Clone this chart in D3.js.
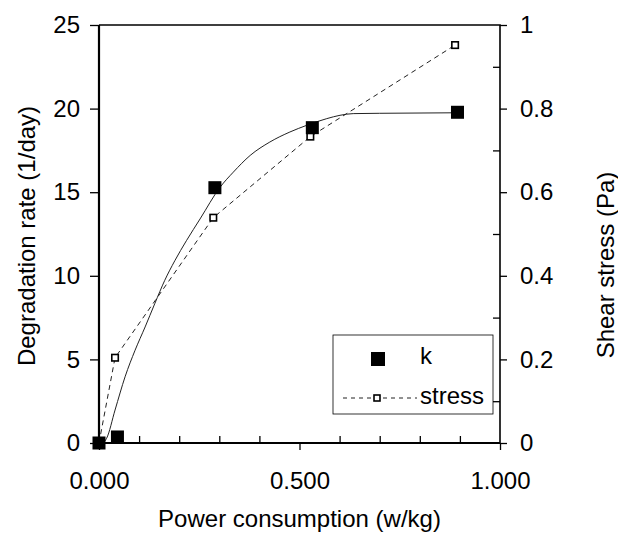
<!DOCTYPE html>
<html>
<head>
<meta charset="utf-8">
<script src="https://cdn.jsdelivr.net/npm/d3@7"></script>
<style>
  body { margin: 0; background: #fff; }
  svg { display: block; }
  text { font-family: "Liberation Sans", Arial, sans-serif; fill: #000; }
</style>
</head>
<body>
<div id="chart"></div>
<script>
// measured points, k (left axis)
var powerK = [0, 0.046, 0.289, 0.532, 0.894];
var kValues = [0, 0.36, 15.27, 18.86, 19.78];

// measured points, shear stress (right axis)
var powerStress = [0, 0.04, 0.285, 0.527, 0.888];
var stressValues = [0, 0.204, 0.539, 0.733, 0.952];

// smooth fitted line through k
var fitPower = [0.01, 0.019, 0.04, 0.065, 0.09, 0.115, 0.139, 0.164, 0.189, 0.218, 0.252, 0.302,
  0.335, 0.377, 0.426, 0.476, 0.518, 0.568, 0.601, 0.634, 0.70, 0.894];
var fitK = [0, 0.28, 1.97, 3.96, 5.55, 6.94, 8.33, 9.73, 10.9, 12.1, 13.4, 15.3,
  16.2, 17.2, 18.0, 18.6, 19.0, 19.4, 19.6, 19.7, 19.72, 19.75];

var xTicks = [0, 0.5, 1];
var xTickLabels = ["0.000", "0.500", "1.000"];
var xMinor = [0.1, 0.2, 0.3, 0.4, 0.6, 0.7, 0.8, 0.9];
var leftTicks = [0, 5, 10, 15, 20, 25];
var rightTicks = [0, 0.2, 0.4, 0.6, 0.8, 1];
var rightTickLabels = ["0", "0.2", "0.4", "0.6", "0.8", "1"];
var rightMinor = [0.1, 0.3, 0.5, 0.7, 0.9];

(function () {
  var W = 618, H = 535;
  var pLeft = 99, pRight = 500, pTop = 25, pBottom = 443;

  var svg = d3.select("#chart")
    .append("svg")
    .attr("width", W)
    .attr("height", H);

  var x = d3.scaleLinear().domain([0, 1]).range([pLeft, pRight]);
  var yL = d3.scaleLinear().domain([0, 25]).range([pBottom, pTop]);
  var yR = d3.scaleLinear().domain([0, 1]).range([pBottom, pTop]);

  function styleAxis(sel) {
    sel.select(".domain").remove();
    sel.selectAll("line").attr("stroke", "#000").attr("stroke-width", 1.3);
    sel.selectAll("text")
      .attr("font-size", 24)
      .attr("font-family", "Liberation Sans, Arial, sans-serif")
      .attr("fill", "#000");
  }

  // minor ticks (inside)
  svg.append("g")
    .attr("transform", "translate(0," + pBottom + ")")
    .call(d3.axisBottom(x).tickValues(xMinor).tickSize(-7).tickFormat(""))
    .call(styleAxis);

  svg.append("g")
    .attr("transform", "translate(" + pRight + ",0)")
    .call(d3.axisRight(yR).tickValues(rightMinor).tickSize(-7).tickFormat(""))
    .call(styleAxis);

  // major ticks (outside)
  svg.append("g")
    .attr("transform", "translate(0," + pBottom + ")")
    .call(d3.axisBottom(x).tickValues(xTicks).tickSize(7).tickPadding(22)
      .tickFormat(function (d, i) { return xTickLabels[i]; }))
    .call(styleAxis);

  svg.append("g")
    .attr("transform", "translate(" + pLeft + ",0)")
    .call(d3.axisLeft(yL).tickValues(leftTicks).tickSize(9).tickPadding(10))
    .call(styleAxis);

  svg.append("g")
    .attr("transform", "translate(" + pRight + ",0)")
    .call(d3.axisRight(yR).tickValues(rightTicks).tickSize(7).tickPadding(13)
      .tickFormat(function (d, i) { return rightTickLabels[i]; }))
    .call(styleAxis);

  // frame
  svg.append("path")
    .attr("d", "M" + pLeft + "," + pTop + "H" + pRight + "V" + pBottom)
    .attr("fill", "none").attr("stroke", "#000").attr("stroke-width", 1.6);
  svg.append("path")
    .attr("d", "M" + pLeft + "," + pTop + "V" + pBottom + "H" + pRight)
    .attr("fill", "none").attr("stroke", "#000").attr("stroke-width", 2.2);

  // fitted k curve
  var fitData = fitPower.map(function (p, i) { return [p, fitK[i]]; });
  svg.append("path")
    .datum(fitData)
    .attr("fill", "none")
    .attr("stroke", "#222")
    .attr("stroke-width", 1)
    .attr("d", d3.line()
      .x(function (d) { return x(d[0]); })
      .y(function (d) { return yL(d[1]); })
      .curve(d3.curveMonotoneX));

  // stress dashed line
  var stressData = powerStress.map(function (p, i) { return [p, stressValues[i]]; });
  svg.append("path")
    .datum(stressData)
    .attr("fill", "none")
    .attr("stroke", "#222")
    .attr("stroke-width", 1)
    .attr("stroke-dasharray", "5,4")
    .attr("d", d3.line()
      .x(function (d) { return x(d[0]); })
      .y(function (d) { return yR(d[1]); }));

  // stress markers
  var so = 6.5;
  svg.selectAll("rect.stress")
    .data(stressData)
    .enter()
    .append("rect")
    .attr("class", "stress")
    .attr("x", function (d) { return x(d[0]) - so / 2; })
    .attr("y", function (d) { return yR(d[1]) - so / 2; })
    .attr("width", so)
    .attr("height", so)
    .attr("fill", "#fff")
    .attr("stroke", "#000")
    .attr("stroke-width", 1.6);

  // k markers
  var ks = 13;
  var kData = powerK.map(function (p, i) { return [p, kValues[i]]; });
  svg.selectAll("rect.k")
    .data(kData)
    .enter()
    .append("rect")
    .attr("class", "k")
    .attr("x", function (d) { return x(d[0]) - ks / 2; })
    .attr("y", function (d) { return yL(d[1]) - ks / 2; })
    .attr("width", ks)
    .attr("height", ks)
    .attr("fill", "#000");

  // axis titles
  svg.append("text")
    .attr("x", (pLeft + pRight) / 2)
    .attr("y", 527)
    .attr("text-anchor", "middle")
    .attr("font-size", "24px")
    .text("Power consumption (w/kg)");

  svg.append("text")
    .attr("transform", "translate(35,236) rotate(-90)")
    .attr("text-anchor", "middle")
    .attr("font-size", "24px")
    .text("Degradation rate (1/day)");

  svg.append("text")
    .attr("transform", "translate(614,265) rotate(-90)")
    .attr("text-anchor", "middle")
    .attr("font-size", "24px")
    .text("Shear stress (Pa)");

  // legend
  var lg = svg.append("g");
  lg.append("rect")
    .attr("x", 333).attr("y", 335)
    .attr("width", 160).attr("height", 79)
    .attr("fill", "#fff")
    .attr("stroke", "#000")
    .attr("stroke-width", 0.8);
  lg.append("rect")
    .attr("x", 371).attr("y", 352)
    .attr("width", 14).attr("height", 14)
    .attr("fill", "#000");
  lg.append("text")
    .attr("x", 420).attr("y", 364)
    .attr("font-size", "24px")
    .text("k");
  lg.append("line")
    .attr("x1", 343).attr("x2", 417)
    .attr("y1", 398).attr("y2", 398)
    .attr("stroke", "#222")
    .attr("stroke-width", 1)
    .attr("stroke-dasharray", "4,4");
  lg.append("rect")
    .attr("x", 374).attr("y", 395)
    .attr("width", 6).attr("height", 6)
    .attr("fill", "#fff")
    .attr("stroke", "#000")
    .attr("stroke-width", 1.6);
  lg.append("text")
    .attr("x", 420).attr("y", 404)
    .attr("font-size", "24px")
    .text("stress");
})();
</script>
</body>
</html>
